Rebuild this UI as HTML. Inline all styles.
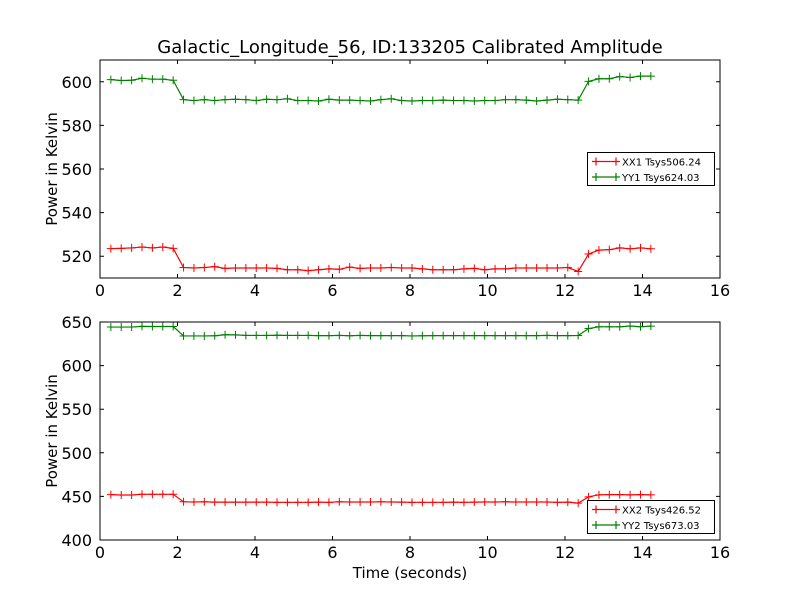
<!DOCTYPE html>
<html><head><meta charset="utf-8"><style>
body{margin:0;background:#fff;}
svg{display:block;font-family:"DejaVu Sans","Liberation Sans",sans-serif;}
</style></head><body>
<svg id="chart" width="800" height="600" xmlns="http://www.w3.org/2000/svg">
<rect width="800" height="600" fill="#fff"/>
<text x="410" y="53" font-size="18" text-anchor="middle">Galactic_Longitude_56, ID:133205 Calibrated Amplitude</text>
</svg>
<script>
const topXX=[523.5,523.6,523.8,524.2,523.8,524.2,523.6,
514.8,514.6,514.8,515.2,514.4,514.6,514.6,514.6,514.6,514.4,513.8,513.8,513.4,513.8,514.2,514.0,515.0,514.4,514.6,514.6,514.8,514.6,514.6,514.2,513.8,513.8,513.8,514.2,514.4,513.8,514.2,514.2,514.6,514.6,514.6,514.6,514.6,514.8,
513.0,521.0,522.8,523.0,523.8,523.4,523.8,523.4];
const topYY=[601.0,600.6,600.7,601.6,601.2,601.2,600.7,
591.8,591.4,591.8,591.4,591.8,592.0,591.8,591.4,592.0,591.8,592.2,591.4,591.4,591.2,592.0,591.6,591.6,591.4,591.2,591.8,592.2,591.4,591.2,591.4,591.4,591.6,591.4,591.4,591.2,591.4,591.4,591.8,591.8,591.6,591.2,591.6,592.0,591.8,
591.6,600.2,601.4,601.4,602.4,602.0,602.6,602.6];
const botXX=[452.0,451.6,451.6,452.4,452.4,452.4,452.4,
443.8,443.6,443.8,443.4,443.4,443.4,443.4,443.4,443.4,443.2,443.2,443.2,443.2,443.4,443.2,443.8,443.6,443.6,443.6,443.8,443.6,443.4,443.2,443.2,443.2,443.2,443.4,443.2,443.4,443.6,443.6,443.8,443.6,443.6,443.6,443.6,443.2,443.4,
442.3,449.5,451.8,452.0,452.0,451.8,452.0,451.8];
const botYY=[644.2,644.2,644.2,645.0,644.8,644.8,644.8,
634.0,634.0,634.0,634.2,635.4,635.2,634.6,634.6,634.6,634.8,634.6,634.6,634.6,634.4,634.4,634.6,634.2,634.6,634.4,634.4,634.4,634.4,634.0,634.2,634.4,634.4,634.4,634.4,634.4,634.4,634.4,634.4,634.4,634.4,634.4,634.6,634.4,634.4,
634.5,642.5,644.5,644.5,644.5,645.4,644.6,645.2];
const xTicks=[0,2,4,6,8,10,12,14,16];
const topYTicks=[520,540,560,580,600];
const botYTicks=[400,450,500,550,600,650];
const legendTop=["XX1 Tsys506.24","YY1 Tsys624.03"];
const legendBot=["XX2 Tsys426.52","YY2 Tsys673.03"];
const t0=0.28, dt=0.268;

const NS="http://www.w3.org/2000/svg";
const svg=document.getElementById('chart');
function mk(tag,attrs,parent){const e=document.createElementNS(NS,tag);for(const k in attrs)e.setAttribute(k,attrs[k]);(parent||svg).appendChild(e);return e;}

function panel(name,top,bottom,ymin,ymax,yTicks,s1,s2,legend,legY,showXLabel){
  const L=100,R=720;
  const g=mk('g',{});
  
  
  const xs=v=>L+(v-0)/(16-0)*(R-L);
  const ys=v=>bottom-(v-ymin)/(ymax-ymin)*(bottom-top);
  [[s1,'#ff0000','xx'],[s2,'#008000','yy']].forEach(([arr,col,nm])=>{
    const pts=arr.map((v,i)=>[xs(t0+i*dt),ys(v)]);
    const pl=mk('polyline',{points:pts.map(p=>p.join(',')).join(' '),fill:'none',stroke:col,'stroke-width':1.2},g);
    
    
    pts.forEach(p=>{
      const m=mk('path',{d:`M${p[0]-4},${p[1]}H${p[0]+4}M${p[0]},${p[1]-4}V${p[1]+4}`,stroke:col,'stroke-width':1},g);
      
      
    });
  });
  const fr=mk('rect',{x:L,y:top,width:R-L,height:bottom-top,fill:'none',stroke:'#000','stroke-width':1},g);
  
  
  xTicks.forEach(v=>{
    const x=xs(v);
    mk('path',{d:`M${x},${bottom}v-4M${x},${top}v4`,stroke:'#000'},g);
    const t=mk('text',{x:x,y:bottom+18,'font-size':16,'text-anchor':'middle'},g);
    
    
    t.textContent=v;
  });
  yTicks.forEach(v=>{
    const y=ys(v);
    mk('path',{d:`M${L},${y}h4M${R},${y}h-4`,stroke:'#000'},g);
    const t=mk('text',{x:L-8,y:y+6,'font-size':16,'text-anchor':'end'},g);
    
    
    t.textContent=v;
  });
  const yl=mk('text',{x:0,y:0,'font-size':15,'text-anchor':'middle',transform:`translate(57,${(top+bottom)/2}) rotate(-90)`},g);
  
  
  yl.textContent='Power in Kelvin';
  if(showXLabel){
    const xl=mk('text',{x:410,y:578,'font-size':15,'text-anchor':'middle'},g);
    
    
    xl.textContent='Time (seconds)';
  }
  const lg=mk('g',{},g);
  
  
  mk('rect',{x:587.5,y:legY,width:127,height:33,fill:'#fff',stroke:'#000','stroke-width':1},lg);
  ['#ff0000','#008000'].forEach((c,i)=>{
    const y=legY+9+i*15.5;
    const e=mk('g',{},lg);
    
    
    mk('path',{d:`M592,${y}h28M596,${y-4}v8M616,${y-4}v8`,stroke:c,'stroke-width':1.2},e);
    const t=mk('text',{x:622,y:y+4,'font-size':10},e);
    t.textContent=legend[i];
  });
}
panel('top-panel',60,278,510,610,topYTicks,topXX,topYY,legendTop,152.5,false);
panel('bottom-panel',322,540,400,650,botYTicks,botXX,botYY,legendBot,500.5,true);
</script>
</body></html>
